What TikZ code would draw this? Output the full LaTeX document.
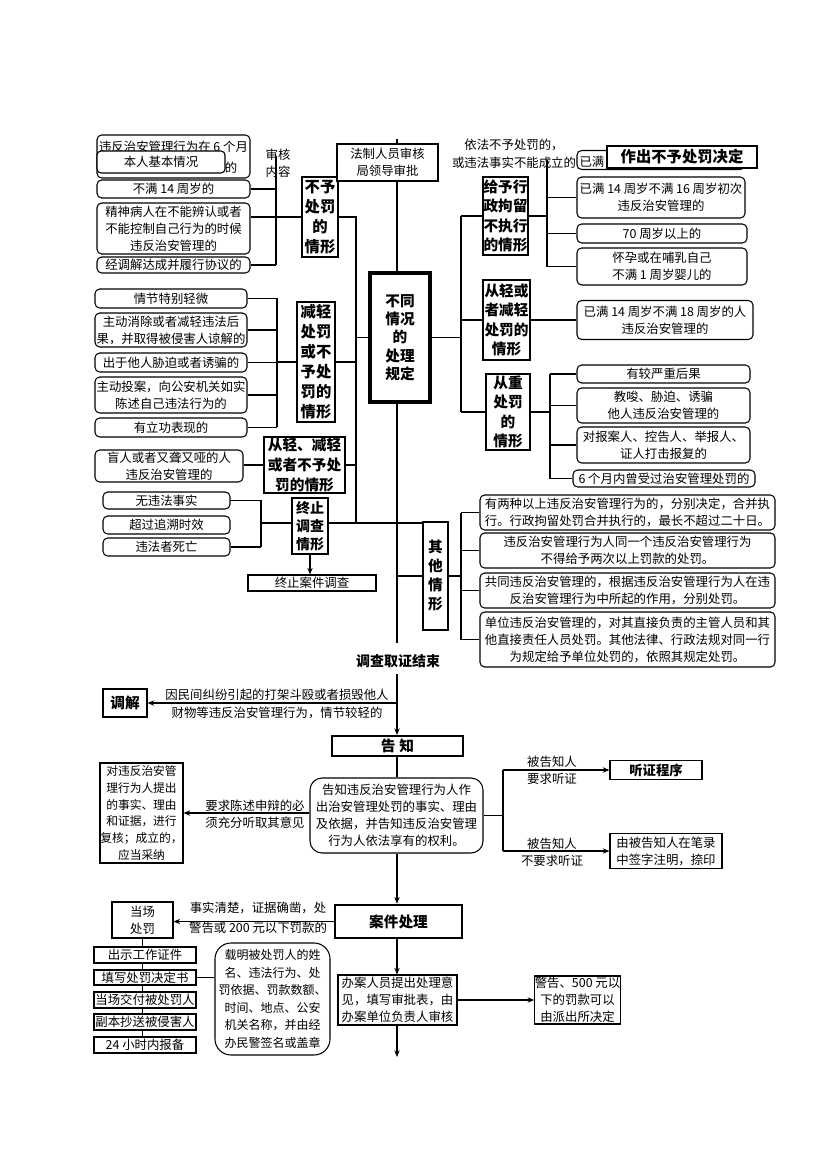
\documentclass[tikz,border=0pt]{standalone}
\usepackage{fontspec}
\setmainfont{Noto Sans CJK SC}
\usetikzlibrary{arrows.meta}
\newcommand\ntf{\fontsize{9.3}{12.75}\selectfont}
\newcommand\lbf{\fontsize{11}{14.5}\selectfont\bfseries}
\newcommand\lbfL{\fontsize{11.5}{15}\selectfont\bfseries}
\newcommand\cbf{\fontsize{11}{13.7}\selectfont\bfseries}
\newcommand\zzf{\fontsize{10.5}{13.5}\selectfont\bfseries}
\newcommand\qtf{\fontsize{11}{14.25}\selectfont\bfseries}
\newcommand\zcf{\fontsize{11.5}{14}\selectfont\bfseries}
\newcommand\jsf{\fontsize{10.5}{13}\selectfont\bfseries}
\newcommand\gzf{\fontsize{11}{13}\selectfont\bfseries}
\newcommand\fhf{\fontsize{8.8}{12.5}\selectfont}
\newcommand\tzf{\fontsize{10}{12}\selectfont\bfseries}
\newcommand\tlf{\fontsize{9.3}{13.5}\selectfont}
\newcommand\tdf{\fontsize{9.3}{15}\selectfont}
\newcommand\zmf{\fontsize{9}{13.1}\selectfont}
\begin{document}
\begin{tikzpicture}[x=0.75pt,y=-0.75pt,line width=0.8pt,
  px/.style 2 args={minimum width=#1*0.75pt, minimum height=#2*0.75pt},
  nt/.style={font=\ntf, align=center, inner sep=0pt},
  rb/.style={nt, draw, rounded corners=3.5pt, fill=white},
  sb/.style={nt, draw, fill=white},
  lb/.style={draw, fill=white, align=center, inner sep=0pt, font=\lbf},
  ar/.style={-{Stealth[length=5pt,width=4pt]}}]
\fill[white] (0,0) rectangle (827,1170);
\useasboundingbox (0,0) rectangle (827,1170);
\coordinate (cx) at (397,0);

% ---------- top left ----------
\node[rb, px={153}{43}] (bgA) at (173.5,156.5) {};
\node[nt] (tA1) at (173.5,147) {违反治安管理行为在 6 个月};
\node[nt] (tA2) at (231,168) {的};
\node[rb, rounded corners=3pt, px={128}{22}] (nBR) at (161,162) {本人基本情况};
\node[nt] (tSH) at (278,163) {审核\\内容};
\coordinate (hA) at (276,156);
\coordinate (hB) at (276,265);
\draw (hA) -- (hB);
\node[rb, px={153}{18}] (n14) at (173.5,189) {不满 14 周岁的};
\node[rb, px={153}{51}] (nJS) at (173.5,228.5) {精神病人在不能辨认或者\\不能控制自己行为的时候\\违反治安管理的};
\node[rb, px={153}{16}] (nTJ) at (173.5,265) {经调解达成并履行协议的};
\node[lb, font=\lbfL, px={36}{80}] (bY) at (320,217) {不予\\处罚\\的\\情形};
\draw (n14.east) -- (n14.east -| hA);
\draw (nJS.east |- bY.west) -- (bY.west);
\draw (nTJ.east) -- (nTJ.east -| hA);

% left trunk
\coordinate (L1) at (356,217);
\coordinate (L2) at (356,523);
\draw (bY.east) -- (L1) -- (L2);

% ---------- centre ----------
\node[sb, px={101}{37}] (nFZ) at (387.5,162.5) {法制人员审核\\局领导审批};
\draw (397,139) -- (nFZ.north -| cx);
\node[lb, font=\cbf, line width=2.6pt, px={60}{129}] (cB) at (400,337.5) {不同\\情况\\的\\处理\\规定};
\draw (nFZ.south -| cx) -- (cB.north -| cx);
\draw (cB.west) -- (cB.west -| L1);

% ---------- left group 2 ----------
\coordinate (M1) at (277,298);
\coordinate (M2) at (277,427);
\draw (M1) -- (M2);
\node[rb, px={152}{19}] (nQJ) at (171,298.5) {情节特别轻微};
\node[rb, px={152}{34}] (nZD) at (171,330) {主动消除或者减轻违法后\\果，并取得被侵害人谅解的};
\node[rb, px={152}{19}] (nCY) at (171,362.5) {出于他人胁迫或者诱骗的};
\node[rb, px={152}{36}] (nZT) at (171,395) {主动投案，向公安机关如实\\陈述自己违法行为的};
\node[rb, px={152}{19}] (nLG) at (171,427.5) {有立功表现的};
\foreach \n in {nQJ,nZD,nCY,nZT,nLG} \draw (\n.east) -- (\n.east -| M1);
\node[lb, font=\lbfL, px={38}{120}] (bJ) at (316,362) {减轻\\处罚\\或不\\予处\\罚的\\情形};
\draw (bJ.west) -- (bJ.west -| M1);
\draw (bJ.east) -- (bJ.east -| L1);

\node[lb, font=\fontsize{11}{15}\selectfont\bfseries, px={81}{56}] (bCQ) at (304.5,465) {从轻、减轻\\或者不予处\\罚的情形};
\node[rb, px={148}{32}] (nMR) at (169,466) {盲人或者又聋又哑的人\\违反治安管理的};
\draw (nMR.east |- bCQ.west) -- (bCQ.west);
\draw (bCQ.east) -- (bCQ.east -| L1);

% ---------- termination ----------
\coordinate (Z1) at (261,500);
\coordinate (Z2) at (261,547);
\draw (Z1) -- (Z2);
\node[rb, px={127}{17}] (nWF) at (166.5,500.5) {无违法事实};
\node[rb, px={127}{18}] (nCG) at (166.5,525) {超过追溯时效};
\node[rb, px={127}{18}] (nSW) at (166.5,547) {违法者死亡};
\draw (nWF.east) -- (nWF.east -| Z1);
\draw (nSW.east) -- (nSW.east -| Z1);
\node[lb, font=\zzf, px={36}{56}] (bZZ) at (310,526) {终止\\调查\\情形};
\draw (L2 -| Z1) -- (L2 -| bZZ.west);
\node[sb, px={128}{16}] (nZA) at (312,583) {终止案件调查};
\draw[ar] (bZZ.south) -- (bZZ.south |- nZA.north);
\node[lb, font=\qtf, px={25}{108}] (bQT) at (435.5,576) {其\\他\\情\\形};
\draw (L2 -| bZZ.east) -- (L2 -| bQT.west);

% central line down
\draw (cB.south -| cx) -- (397,643);
\draw (bQT.west -| cx) -- (bQT.west);

% other situations
\coordinate (R5) at (461,512.5);
\coordinate (R6) at (461,639.5);
\draw (R5) -- (R6);
\draw (bQT.east) -- (bQT.east -| R5);
\node[rb, px={295}{35}] (nO1) at (627.5,512.5) {有两种以上违反治安管理行为的，分别决定，合并执\\行。行政拘留处罚合并执行的，最长不超过二十日。};
\node[rb, px={295}{35}] (nO2) at (627.5,550.5) {违反治安管理行为人同一个违反治安管理行为\\不得给予两次以上罚款的处罚。};
\node[rb, px={295}{35}] (nO3) at (627.5,590.5) {共同违反治安管理的，根据违反治安管理行为人在违\\反治安管理行为中所起的作用，分别处罚。};
\node[rb, px={295}{55}] (nO4) at (627.5,639.5) {单位违反治安管理的，对其直接负责的主管人员和其\\他直接责任人员处罚。其他法律、行政法规对同一行\\为规定给予单位处罚的，依照其规定处罚。};
\foreach \n in {nO1,nO2,nO3,nO4} \draw (\n.west -| R5) -- (\n.west);

% ---------- right side ----------
\coordinate (R1) at (461,216);
\coordinate (R2) at (461,412);
\draw (R1) -- (R2);
\draw (cB.east) -- (cB.east -| R1);
\node[lb, px={45}{78}] (bGJ) at (505.5,216) {给予行\\政拘留\\不执行\\的情形};
\draw (R1) -- (bGJ.west);

% hidden top box and decision
\node[nt, font=\tlf] (tY) at (514,154) {依法不予处罚的，\\或违法事实不能成立的};
\node[rb, px={168}{19}] (nH) at (661,160) {};
\node[nt, anchor=west] (tH) at (579,162) {已满};
\node[lb, font=\zcf, px={150}{22}] (nZC) at (682,157) {作出不予处罚决定};

\coordinate (G1) at (547,160);
\node[rb, px={168}{41}] (nR1) at (661,197.5) {已满 14 周岁不满 16 周岁初次\\违反治安管理的};
\node[rb, px={170}{19}] (nR2) at (662,233.5) {70 周岁以上的};
\node[rb, px={170}{37}] (nR3) at (662,266.5) {怀孕或在哺乳自己\\不满 1 周岁婴儿的};
\draw (G1) -- (G1 |- nR3.west);
\draw (bGJ.east) -- (bGJ.east -| G1);
\foreach \n in {nR1,nR2,nR3} \draw (\n.west -| G1) -- (\n.west);

\node[lb, px={47}{80}] (bQJ) at (506.5,320) {从轻或\\者减轻\\处罚的\\情形};
\node[rb, px={176}{39}] (nR4) at (665,320) {已满 14 周岁不满 18 周岁的人\\违反治安管理的};
\draw (bQJ.west -| R1) -- (bQJ.west);
\draw (bQJ.east) -- (nR4.west);

\node[lb, px={44}{76}] (bZC) at (508,412) {从重\\处罚\\的\\情形};
\draw (R2) -- (bZC.west);
\coordinate (S1) at (550,374);
\coordinate (S2) at (550,478.5);
\draw (S1) -- (S2);
\draw (bZC.east) -- (bZC.east -| S1);
\node[rb, px={173}{18}] (nS1) at (663.5,374) {有较严重后果};
\node[rb, px={173}{35}] (nS2) at (663.5,405.5) {教唆、胁迫、诱骗\\他人违反治安管理的};
\node[rb, px={173}{36}] (nS3) at (663.5,445) {对报案人、控告人、举报人、\\证人打击报复的};
\node[rb, px={182}{17}] (nS4) at (664,478.5) {6 个月内曾受过治安管理处罚的};
\foreach \n in {nS1,nS2,nS3,nS4} \draw (\n.west -| S1) -- (\n.west);

% ---------- lower flow ----------
\node[nt, font=\jsf] (tJS) at (398,661) {调查取证结束};
\coordinate (C1) at (397,674);
\node[lb, font=\gzf, line width=1.5pt, px={131}{20}] (gZ) at (397.5,746) {告\hspace{3pt}知};
\draw[ar] (C1) -- (gZ.north -| cx);
\node[lb, px={44}{28}] (tTJ) at (125,703) {调解};
\draw[ar] (tTJ.east -| cx) -- (tTJ.east);
\node[nt, font=\tlf] (tMJ) at (277,704) {因民间纠纷引起的打架斗殴或者损毁他人\\财物等违反治安管理行为，情节较轻的};

\node[rb, rounded corners=9pt, px={173}{75}] (rGZ) at (396.5,815.5) {告知违反治安管理行为人作\\出治安管理处罚的事实、理由\\及依据，并告知违反治安管理\\行为人依法享有的权利。};
\draw (gZ.south -| cx) -- (rGZ.north -| cx);
\node[sb, font=\fhf, px={83}{100}] (nFH) at (141.5,813) {对违反治安管\\理行为人提出\\的事实、理由\\和证据，进行\\复核；成立的，\\应当采纳};
\draw[ar] (rGZ.west |- nFH.east) -- (nFH.east);
\node[nt] (tSB) at (255,814) {要求陈述申辩的必\\须充分听取其意见};

\coordinate (T1) at (503,770);
\coordinate (T2) at (503,851);
\draw (rGZ.east) -- (rGZ.east -| T1);
\draw (T1) -- (T2);
\node[lb, font=\tzf, px={92}{19}] (nTZ) at (656,770) {听证程序};
\draw[ar] (T1) -- (nTZ.west);
\node[sb, px={112}{35}] (nBL) at (666,851) {由被告知人在笔录\\中签字注明，捺印};
\draw[ar] (T2) -- (nBL.west);
\node[nt] (tR1) at (552,770) {被告知人\\要求听证};
\node[nt] (tR2) at (552,852) {被告知人\\不要求听证};

\node[lb, font=\gzf, line width=2pt, px={127}{33}] (gAJ) at (398.5,921.5) {案件处理};
\draw[ar] (rGZ.south -| cx) -- (gAJ.north -| cx);
\node[sb, px={61}{36}] (nDC) at (142.5,920) {当场\\处罚};
\draw[ar] (gAJ.west) -- (nDC.east |- gAJ.west);
\node[nt, font=\tdf] (tDC) at (258,918) {事实清楚，证据确凿，处\\警告或 200 元以下罚款的};

\node[sb, px={102}{16}] (nP1) at (145,955) {出示工作证件};
\node[sb, px={102}{15}] (nP2) at (145,977.5) {填写处罚决定书};
\node[sb, px={102}{16}] (nP3) at (145,1000) {当场交付被处罚人};
\node[sb, px={102}{16}] (nP4) at (145,1022) {副本抄送被侵害人};
\node[sb, px={102}{16}] (nP5) at (145,1045) {24 小时内报备};
\draw (nDC.south) -- (nDC.south |- nP1.north);
\draw (nP1.south -| nDC.south) -- (nP2.north -| nDC.south);
\draw (nP2.south -| nDC.south) -- (nP3.north -| nDC.south);
\draw (nP3.south -| nDC.south) -- (nP4.north -| nDC.south);
\draw (nP4.south -| nDC.south) -- (nP5.north -| nDC.south);
\node[rb, font=\zmf, rounded corners=12pt, px={115}{112}] (rZM) at (272.5,999) {载明被处罚人的姓\\名、违法行为、处\\罚依据、罚款数额、\\时间、地点、公安\\机关名称，并由经\\办民警签名或盖章};
\draw (nP2.east) -- (nP2.east -| rZM.west);

\node[sb, px={119}{50}] (nBA) at (397.5,1000) {办案人员提出处理意\\见，填写审批表，由\\办案单位负责人审核};
\draw[ar] (gAJ.south -| cx) -- (nBA.north -| cx);
\node[sb, px={85}{48}] (nJG) at (577.5,1000) {警告、500 元以\\下的罚款可以\\由派出所决定};
\draw[ar] (nBA.east) -- (nJG.west);
\coordinate (E1) at (397,1057);
\draw[ar] (nBA.south -| cx) -- (E1);
\end{tikzpicture}
\end{document}
